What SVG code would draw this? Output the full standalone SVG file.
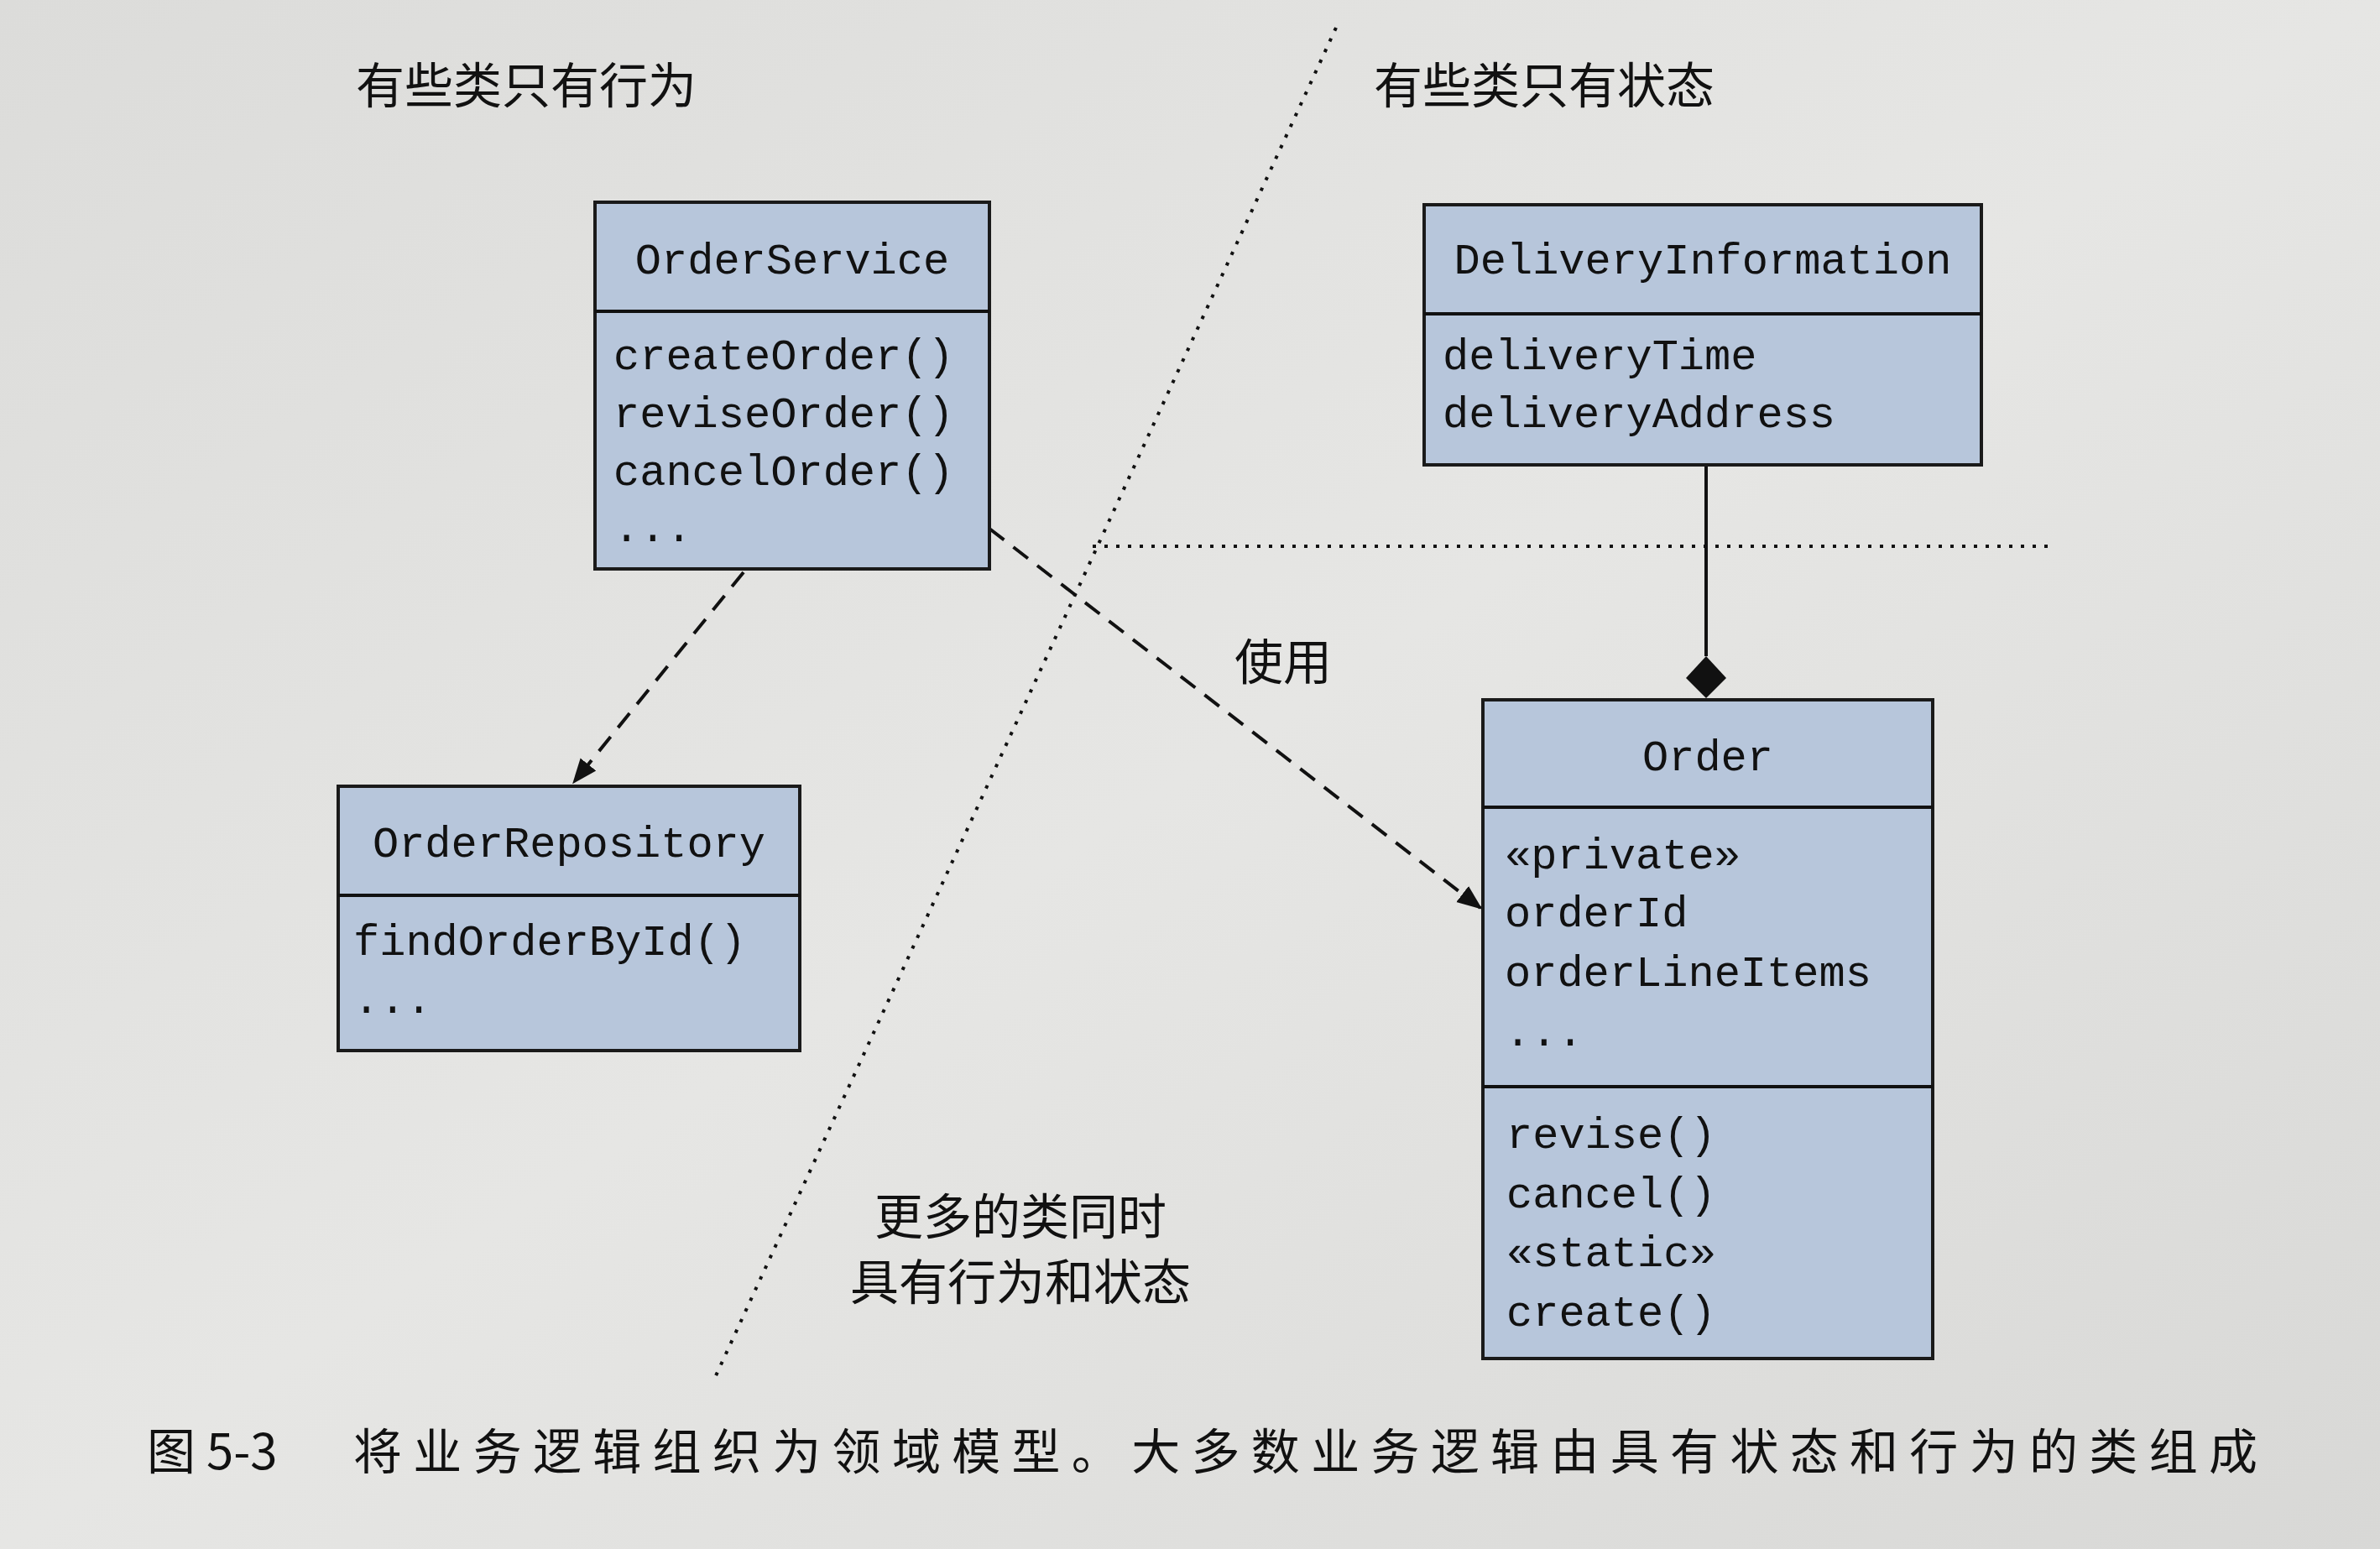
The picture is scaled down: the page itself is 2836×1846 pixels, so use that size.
<svg xmlns="http://www.w3.org/2000/svg" width="2836" height="1846" viewBox="0 0 2836 1846">
<defs>
<style>
.box{fill:#b7c6db;stroke:#1a1a1a;stroke-width:4}
.m{font-family:"Liberation Mono",monospace;font-size:52px;fill:#111}
.c{font-family:"Noto Sans CJK SC",sans-serif;font-size:58px;fill:#111}
.conn{stroke:#111;stroke-width:4;fill:none}
</style>
<linearGradient id="bg" x1="0" y1="0" x2="1" y2="1"><stop offset="0" stop-color="#dcdcda"/><stop offset="0.5" stop-color="#e6e6e4"/><stop offset="1" stop-color="#d8d8d6"/></linearGradient>
<marker id="ah" viewBox="0 0 20 20" refX="18" refY="10" markerWidth="30" markerHeight="30" markerUnits="userSpaceOnUse" orient="auto"><path d="M0,2 L20,10 L0,18 z" fill="#111"/></marker>
</defs>
<rect width="2836" height="1846" fill="url(#bg)"/>
<g id="connectors">
<line class="conn" x1="1592" y1="33" x2="850" y2="1646" stroke-dasharray="4 10"/>
<line class="conn" x1="1302" y1="651" x2="2442" y2="651" stroke-dasharray="4 10"/>
<line class="conn" x1="886" y1="682" x2="684" y2="932" stroke-dasharray="22 14" marker-end="url(#ah)"/>
<line class="conn" x1="1179" y1="630" x2="1764" y2="1082" stroke-dasharray="22 14" marker-end="url(#ah)"/>
<line class="conn" x1="2033" y1="554" x2="2033" y2="782"/>
<path d="M2033,782 L2057,808 L2033,832 L2009,808 z" fill="#111"/>
</g>
<g id="OrderService">
<rect class="box" x="709" y="241" width="470" height="437"/>
<line class="conn" x1="709" y1="371" x2="1179" y2="371"/>
<text class="m" x="944" y="326" text-anchor="middle">OrderService</text>
<text class="m" x="731" y="440">createOrder()</text>
<text class="m" x="731" y="509">reviseOrder()</text>
<text class="m" x="731" y="578">cancelOrder()</text>
<text class="m" x="731" y="645">...</text>
</g>
<g id="DeliveryInformation">
<rect class="box" x="1697" y="244" width="664" height="310"/>
<line class="conn" x1="1697" y1="374" x2="2361" y2="374"/>
<text class="m" x="2029" y="326" text-anchor="middle">DeliveryInformation</text>
<text class="m" x="1719" y="440">deliveryTime</text>
<text class="m" x="1719" y="509">deliveryAddress</text>
</g>
<g id="OrderRepository">
<rect class="box" x="403" y="937" width="550" height="315"/>
<line class="conn" x1="403" y1="1067" x2="953" y2="1067"/>
<text class="m" x="678" y="1021" text-anchor="middle">OrderRepository</text>
<text class="m" x="421" y="1138">findOrderById()</text>
<text class="m" x="421" y="1207">...</text>
</g>
<g id="Order">
<rect class="box" x="1767" y="834" width="536" height="785"/>
<line class="conn" x1="1767" y1="962" x2="2303" y2="962"/>
<line class="conn" x1="1767" y1="1295" x2="2303" y2="1295"/>
<text class="m" x="2035" y="918" text-anchor="middle">Order</text>
<text class="m" x="1793" y="1035">«private»</text>
<text class="m" x="1793" y="1104">orderId</text>
<text class="m" x="1793" y="1175">orderLineItems</text>
<text class="m" x="1793" y="1246">...</text>
<text class="m" x="1795" y="1368">revise()</text>
<text class="m" x="1795" y="1439">cancel()</text>
<text class="m" x="1795" y="1509">«static»</text>
<text class="m" x="1795" y="1580">create()</text>
</g>
<g id="labels">
<text class="c" x="627" y="123" text-anchor="middle">有些类只有行为</text>
<text class="c" x="1840" y="123" text-anchor="middle">有些类只有状态</text>
<text class="c" x="1529" y="810" text-anchor="middle">使用</text>
<text class="c" x="1216" y="1471" text-anchor="middle">更多的类同时</text>
<text class="c" x="1216" y="1549" text-anchor="middle">具有行为和状态</text>
<text class="c" x="175" y="1751" font-size="60">图 5-3</text>
<text class="c" x="421" y="1751" font-size="60" textLength="2269" lengthAdjust="spacing">将业务逻辑组织为领域模型。大多数业务逻辑由具有状态和行为的类组成</text>
</g>
</svg>
